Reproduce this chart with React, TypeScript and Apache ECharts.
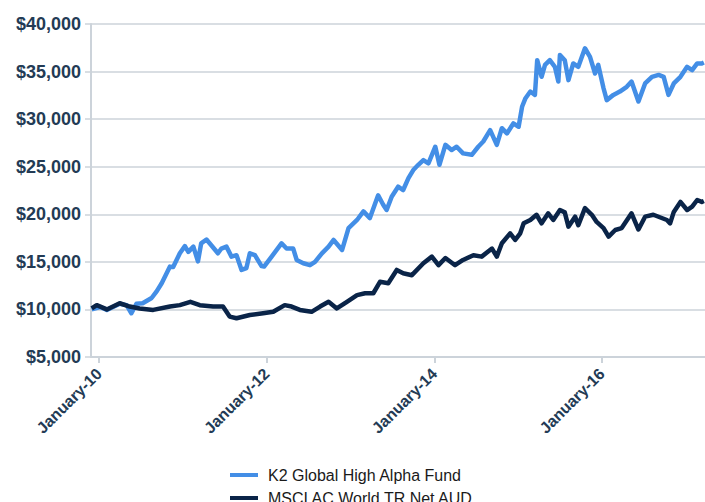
import React, { useEffect, useRef } from "react";
import * as echarts from "echarts";

const seriesNames = ["K2 Global High Alpha Fund", "MSCI AC World TR Net AUD"];

const k2Dates = [
  "2009-11-30","2010-01-06","2010-02-04","2010-04-01","2010-05-01","2010-05-22","2010-06-13","2010-07-10",
  "2010-08-18","2010-09-09","2010-10-01","2010-11-06","2010-11-20","2010-12-19","2011-01-10","2011-01-25",
  "2011-02-16","2011-03-08","2011-03-22","2011-04-14","2011-05-05","2011-06-03","2011-06-18","2011-07-10",
  "2011-08-01","2011-08-23","2011-09-14","2011-10-05","2011-10-20","2011-11-11","2011-12-10","2011-12-21",
  "2012-01-23","2012-03-06","2012-03-28","2012-04-26","2012-05-11","2012-06-09","2012-07-08","2012-07-30",
  "2012-08-29","2012-09-27","2012-10-19","2012-11-25","2012-12-23","2013-01-29","2013-02-26","2013-03-26",
  "2013-05-01","2013-05-23","2013-06-07","2013-06-29","2013-07-27","2013-08-18","2013-09-10","2013-10-01",
  "2013-10-23","2013-11-14","2013-12-06","2014-01-05","2014-01-23","2014-02-18","2014-03-17","2014-04-08",
  "2014-05-06","2014-06-13","2014-07-11","2014-08-02","2014-09-01","2014-09-30","2014-10-22","2014-11-13",
  "2014-12-11","2015-01-03","2015-01-18","2015-02-02","2015-02-23","2015-03-15","2015-03-25","2015-04-13",
  "2015-04-28","2015-05-19","2015-06-10","2015-06-25","2015-07-02","2015-07-23","2015-08-08","2015-08-29",
  "2015-09-20","2015-10-19","2015-11-10","2015-12-02","2015-12-16","2016-01-08","2016-01-22","2016-02-20",
  "2016-03-19","2016-04-18","2016-05-09","2016-06-08","2016-07-07","2016-08-06","2016-09-04","2016-09-26",
  "2016-10-17","2016-11-09","2016-12-08","2017-01-06","2017-01-28","2017-02-19","2017-03-11","2017-03-20"
];
const k2Values = [
  10000,10250,9950,10600,10450,9600,10600,10650,
  11200,11900,12750,14500,14450,15900,16650,16050,
  16600,15050,16950,17350,16750,15900,16400,16600,
  15550,15700,14150,14350,15900,15700,14550,14500,
  15550,16950,16400,16400,15200,14850,14650,15000,
  15900,16600,17300,16250,18550,19400,20300,19600,
  22000,21000,20450,21850,22900,22550,23800,24650,
  25200,25700,25350,27100,25200,27300,26750,27100,
  26400,26250,27100,27650,28850,27300,29050,28500,
  29550,29200,31300,32200,32900,32550,36200,34450,
  35700,36200,35500,33950,36750,36200,34100,35850,
  35500,37450,36550,34800,35700,33250,32000,32550,
  32900,33400,33950,31850,33750,34450,34650,34450,
  32550,33750,34450,35500,35150,35850,35850,35950
];

const msciDates = [
  "2009-11-30","2009-12-22","2010-02-04","2010-04-01","2010-05-15","2010-06-27","2010-08-25","2010-11-06",
  "2010-12-19","2011-02-03","2011-03-16","2011-05-13","2011-06-25","2011-07-24","2011-08-23","2011-10-20",
  "2011-12-17","2012-01-30","2012-03-20","2012-04-19","2012-05-25","2012-07-15","2012-08-21","2012-09-27",
  "2012-11-02","2012-12-16","2013-01-29","2013-03-05","2013-04-10","2013-05-09","2013-06-14","2013-07-21",
  "2013-08-18","2013-09-25","2013-11-14","2013-12-21","2014-01-19","2014-02-18","2014-04-01","2014-05-06",
  "2014-06-20","2014-07-26","2014-09-09","2014-09-30","2014-10-22","2014-11-27","2014-12-19","2015-01-10",
  "2015-01-25","2015-02-23","2015-03-22","2015-04-13","2015-05-12","2015-06-03","2015-07-02","2015-07-23",
  "2015-08-08","2015-09-06","2015-09-20","2015-10-19","2015-11-18","2015-12-09","2016-01-08","2016-01-30",
  "2016-02-28","2016-03-27","2016-05-09","2016-06-08","2016-07-07","2016-08-12","2016-10-10","2016-10-24",
  "2016-11-09","2016-12-08","2017-01-06","2017-01-28","2017-02-19","2017-03-11","2017-03-20"
];
const msciValues = [
  10100,10450,10000,10650,10300,10100,9950,10300,
  10450,10800,10450,10300,10300,9250,9070,9420,
  9600,9750,10450,10300,9950,9750,10300,10800,
  10100,10800,11500,11700,11700,12900,12750,14150,
  13800,13600,14850,15550,14650,15400,14650,15200,
  15700,15550,16400,15550,16950,18000,17300,18000,
  19050,19400,19950,19050,20100,19400,20450,20200,
  18700,19750,18850,20650,19950,19200,18550,17650,
  18350,18550,20100,18400,19750,19950,19400,19050,
  20250,21300,20450,20800,21500,21300,21400
];

const xTickDates = ["2010-01-01", "2012-01-01", "2014-01-01", "2016-01-01"];
const xTickLabels = ["January-10", "January-12", "January-14", "January-16"];
const xRange = ["2009-11-27", "2017-03-25"];
const yTicks = [5000, 10000, 15000, 20000, 25000, 30000, 35000, 40000];

const toTime = (s: string) => {
  const [y, m, d] = s.split("-").map(Number);
  return Date.UTC(y, m - 1, d);
};

const fmtMoney = (v: number) =>
  "$" + String(Math.round(v)).replace(/\B(?=(\d{3})+(?!\d))/g, ",");

export default function App() {
  const ref = useRef<HTMLDivElement>(null);
  useEffect(() => {
    if (!ref.current) return;
    const chart = echarts.init(ref.current, undefined, { renderer: "svg" });
    const tickTimes = xTickDates.map(toTime);
    const font = "'Liberation Sans', Arial, Helvetica, sans-serif";
    const gridColor = "#ccd3da";
    chart.setOption({
      animation: false,
      backgroundColor: "#ffffff",
      textStyle: { fontFamily: font },
      grid: { left: 91, right: 0, top: 24, bottom: 145 },
      legend: {
        orient: "vertical",
        left: 230,
        top: 466,
        width: 300,
        height: 120,
        padding: 0,
        itemGap: 5,
        icon: "rect",
        itemWidth: 28,
        itemHeight: 4,
        data: seriesNames,
        textStyle: { fontSize: 16, lineHeight: 18, color: "#1a1a1a", fontFamily: font, padding: [0, 0, 0, 5] },
      },
      xAxis: {
        type: "value",
        min: toTime(xRange[0]),
        max: toTime(xRange[1]),
        axisLine: { show: true, lineStyle: { color: gridColor, width: 2 } },
        axisTick: {
          show: true,
          length: 6,
          customValues: tickTimes,
          lineStyle: { color: gridColor, width: 2 },
        },
        splitLine: { show: false },
        axisLabel: {
          customValues: tickTimes,
          rotate: 45,
          margin: 14,
          fontSize: 16,
          fontWeight: "bold",
          color: "#233b55",
          fontFamily: font,
          formatter: (v: number) => {
            const i = tickTimes.findIndex((t) => Math.abs(t - v) < 86400000);
            return i >= 0 ? xTickLabels[i] : "";
          },
        },
      },
      yAxis: {
        type: "value",
        min: yTicks[0],
        max: yTicks[yTicks.length - 1],
        interval: 5000,
        axisLine: { show: true, lineStyle: { color: gridColor, width: 2 } },
        axisTick: { show: true, length: 6, lineStyle: { color: gridColor, width: 1.5 } },
        splitLine: { show: true, lineStyle: { color: gridColor, width: 1.5 } },
        axisLabel: {
          margin: 10,
          fontSize: 18,
          fontWeight: "bold",
          color: "#233b55",
          fontFamily: font,
          formatter: (v: number) => fmtMoney(v),
        },
      },
      series: [
        {
          name: seriesNames[0],
          type: "line",
          symbol: "none",
          color: "#438ee6",
          lineStyle: { width: 4.5, color: "#438ee6", join: "round" },
          data: k2Dates.map((d, i) => [toTime(d), k2Values[i]]),
        },
        {
          name: seriesNames[1],
          type: "line",
          symbol: "none",
          color: "#0a2448",
          lineStyle: { width: 4.5, color: "#0a2448", join: "round" },
          data: msciDates.map((d, i) => [toTime(d), msciValues[i]]),
        },
      ],
    });
    return () => chart.dispose();
  }, []);
  return (
    <div
      ref={ref}
      style={{ position: "fixed", left: 0, top: 0, width: 705, height: 502, background: "#fff" }}
    />
  );
}
